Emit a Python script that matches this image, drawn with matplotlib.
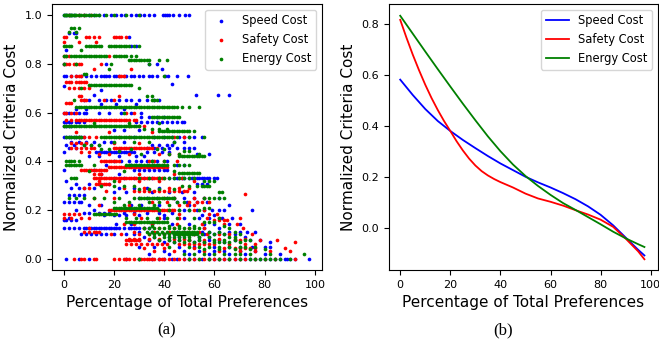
import numpy as np
import matplotlib
matplotlib.use("Agg")
import matplotlib.pyplot as plt

# ---- panel (a): scatter rows, (normalized cost, [percentage values]) ----
speed_rows = [
    (1.0, [0, 1, 2, 3, 4, 6, 8, 10, 12, 14, 16, 19, 21, 23, 24.5, 27, 29, 30.5, 32, 34, 36, 39.7, 40.4, 41.1, 42.1, 43.7, 46, 48.4, 49.7]),
    (0.926, [2, 4, 5]),
    (0.909, [26]),
    (0.875, [27, 29]),
    (0.857, [1]),
    (0.8, [0, 17, 34, 37]),
    (0.78, [39]),
    (0.75, [0, 1, 3, 5, 7, 9, 11, 13, 15, 16, 17, 18, 20, 21, 22, 24, 25, 27, 28, 30, 31.5, 33.8, 35, 37, 40.4, 41.7, 45.3, 49.3]),
    (0.717, [43]),
    (0.71, [0]),
    (0.692, [15]),
    (0.673, [12, 52.7, 61.3, 65.8]),
    (0.65, [8, 10, 14, 17, 19, 22, 25, 27, 30, 33, 36, 38]),
    (0.636, [15, 21, 29]),
    (0.615, [5, 9, 24]),
    (0.6, [0, 1, 2, 4, 6, 8, 9, 14, 18, 23, 27, 31]),
    (0.583, [31, 34, 37, 40]),
    (0.56, [0, 1, 2, 3, 5, 6, 8, 29, 31, 33, 35, 37, 39, 41, 43, 45, 47, 48]),
    (0.545, [0, 1, 2, 3]),
    (0.53, [20, 24, 30]),
    (0.5, [0, 1, 2, 3, 4, 5, 6, 7, 8, 28, 36, 40, 43, 46, 48, 50, 52, 55]),
    (0.48, [3, 6, 9, 12, 16, 19, 24, 44, 48]),
    (0.467, [1, 4, 8, 11, 14, 35, 38, 41, 43]),
    (0.455, [2, 5, 33, 36, 39, 42, 45, 48, 50, 52]),
    (0.44, [0, 13, 14, 15, 16, 17, 18, 19, 20, 21, 22, 23, 24, 25, 26, 27, 28, 33, 36, 39, 42]),
    (0.43, [53, 58]),
    (0.42, [10, 14, 22, 29, 32]),
    (0.4, [20, 23, 26, 29, 31, 33, 35, 37, 41]),
    (0.385, [17, 27, 37, 45, 48]),
    (0.364, [0, 12, 28, 30, 32, 34, 36, 38, 40, 41]),
    (0.35, [15, 22]),
    (0.333, [20, 24, 28, 32, 35, 38, 42, 44, 45, 46, 47, 48, 50, 51, 52, 53, 54, 55, 56, 57, 58, 60, 61]),
    (0.32, [1]),
    (0.308, [5, 10, 14, 18, 53, 55, 57]),
    (0.29, [3, 6, 8, 12, 22, 28, 33, 38]),
    (0.273, [20, 25, 35, 42, 47, 52]),
    (0.26, [2, 4, 6, 8]),
    (0.25, [30, 33, 37, 41, 44, 48, 52, 56, 62]),
    (0.235, [0, 2, 4, 6, 7, 45, 49, 53, 57]),
    (0.222, [10, 15, 27, 31, 38, 50, 66]),
    (0.2, [5, 12, 46, 48, 50, 53, 56, 59, 62, 64, 75]),
    (0.19, [8, 10, 14, 16, 18, 24, 28, 33, 38, 43]),
    (0.18, [16, 20, 22, 25, 30, 40, 55, 60]),
    (0.167, [2, 40, 48, 54, 58, 63, 67]),
    (0.158, [0, 1, 3, 5]),
    (0.143, [21, 27, 35, 43, 50, 56, 60, 66, 70]),
    (0.125, [0, 2, 4, 6, 8, 9, 10, 11, 12, 13, 14, 15, 16, 17, 18, 19, 20, 21, 22, 24, 26, 27, 28, 29, 30, 32, 34, 56, 62]),
    (0.111, [30, 35, 45, 48, 55, 58, 62, 66, 70, 73, 76]),
    (0.1, [7, 9, 11, 13, 15, 17, 20, 25, 28, 40, 44, 48, 50, 52, 56, 60, 64, 68]),
    (0.09, [32, 36, 42, 46, 54, 58, 72]),
    (0.077, [26, 30, 34, 38, 42, 46, 50, 54, 58, 62, 68, 74, 78]),
    (0.067, [40, 44, 52, 56, 64, 82]),
    (0.05, [30, 36, 46, 52, 60, 66, 70, 75, 80, 82]),
    (0.03, [40, 48, 54, 60, 64, 70, 76]),
    (0.02, [34, 42, 50, 58, 66, 72, 80, 86]),
    (0.0, [1, 6, 10, 25, 30, 35, 38, 40, 43, 45, 48, 50, 52, 55, 58, 60, 62, 64, 66, 68, 70, 72, 74, 76, 78, 80, 82, 84, 86, 88, 89, 90, 92, 97.5]),
]

safety_rows = [
    (1.0, [2, 6, 8, 11]),
    (0.909, [0, 1, 9, 10, 12, 14, 20, 21, 22, 23, 25]),
    (0.889, [0, 6, 13]),
    (0.833, [0, 1, 2, 18]),
    (0.8, [0, 1, 2, 4, 5, 6, 7, 15]),
    (0.778, [12, 27]),
    (0.75, [3, 5, 6, 7, 22, 23, 24]),
    (0.727, [1, 2, 3, 5, 6, 7, 8, 9]),
    (0.7, [2, 4, 6, 8, 10]),
    (0.667, [6, 7, 22]),
    (0.65, [7, 8, 9, 16, 20]),
    (0.64, [1, 2, 3]),
    (0.6, [0, 1, 3, 5, 25, 28]),
    (0.571, [1, 3, 5, 6, 7, 8, 9, 10, 11, 12, 13, 14, 15, 16, 17, 18, 19, 20, 21, 22, 23, 24, 25, 26, 28, 29]),
    (0.545, [26, 30, 32]),
    (0.52, [5, 18, 35]),
    (0.5, [6, 8, 10, 13, 22, 26, 44, 48]),
    (0.476, [3, 5, 7, 9, 20, 30]),
    (0.455, [3, 5, 7, 9, 11, 12, 20, 21, 22, 23, 24, 25, 26, 27, 28, 29, 30, 31, 32, 33, 34, 35, 37]),
    (0.44, [7, 10]),
    (0.429, [14, 18, 26, 38, 42, 46]),
    (0.4, [15, 16, 17, 18, 19, 20, 21, 22, 34, 36, 40, 45]),
    (0.375, [18, 19, 20, 21, 22, 23, 24, 25, 26, 27, 28, 29, 30, 31, 32, 33, 34, 35, 36, 37, 38, 39, 40, 41]),
    (0.364, [7, 8, 9, 10, 11, 12, 13, 14, 15, 16, 17]),
    (0.35, [12, 14, 15, 30, 44]),
    (0.333, [12, 13, 14, 15, 16, 17, 18, 19, 20, 21, 22, 23, 24, 25, 26, 27, 28, 29, 30, 31, 32, 33, 34, 35, 36, 37, 38, 39, 40, 47]),
    (0.32, [14, 22, 30, 38, 52]),
    (0.308, [13, 14, 15, 16, 17, 18]),
    (0.29, [8, 10, 24, 32, 42, 46, 50]),
    (0.278, [17, 28, 30, 32, 34, 36, 38, 40, 42, 44, 46, 48, 49]),
    (0.267, [72]),
    (0.25, [12, 20, 40, 44, 52, 56]),
    (0.235, [35, 41, 50, 53, 55, 58]),
    (0.222, [14, 26, 46, 49, 52]),
    (0.2, [18, 19, 20, 21, 22, 23, 24, 25, 26, 27, 28, 29, 30, 31, 32, 33, 34, 35, 36, 37, 38, 39, 40, 41, 42, 43, 44, 52, 56]),
    (0.182, [0, 2, 4, 6, 14, 28, 46, 58, 61]),
    (0.167, [0, 3, 7, 10, 31, 38, 46, 57, 62, 70]),
    (0.16, [60, 62, 64, 65]),
    (0.143, [24, 28, 35, 45, 55, 64, 69]),
    (0.125, [10, 32, 38, 44, 50, 56, 71.5]),
    (0.111, [8, 10, 12, 13, 14, 28, 36, 42, 48, 54]),
    (0.1, [19, 23, 30, 34, 40, 46, 52, 57, 62, 66, 75]),
    (0.083, [26, 28, 30, 34, 38, 44, 48, 62, 68, 72]),
    (0.077, [25, 26, 27, 28, 29, 30, 50, 56, 70, 78, 85]),
    (0.07, [92]),
    (0.06, [25, 27, 29, 31, 33, 35, 37, 39, 41, 46, 48, 50, 52, 54, 56, 58, 60, 66, 72, 76]),
    (0.045, [32, 40, 52, 64, 68, 70, 72, 74, 76, 88]),
    (0.03, [36, 44, 56, 62, 70, 76, 82, 90]),
    (0.0, [4, 7, 8, 12, 13, 20, 22, 24, 25, 26, 28, 30, 31, 32, 33, 34, 35, 36, 38, 39, 40, 42, 44, 46, 48, 50, 52, 54, 56, 58, 60, 62, 64, 66, 68, 70, 72, 76, 80, 84, 92]),
]

energy_rows = [
    (1.0, [0, 0.5, 1, 1.5, 2, 2.5, 3, 3.5, 4, 4.5, 5, 6, 7, 8, 9, 10, 11, 12, 13, 14, 17, 20, 25, 30]),
    (0.947, [3, 4, 6]),
    (0.93, [2, 5]),
    (0.909, [5]),
    (0.875, [0, 1, 2, 3, 9, 10, 11, 12, 13, 14, 15, 18, 19, 20, 21, 22, 23, 24, 25, 26, 28, 30]),
    (0.857, [7]),
    (0.833, [0, 1, 3, 4, 5, 6, 7, 8, 9, 10, 11, 12, 13, 14, 15, 16, 17, 20, 21, 22, 23, 24, 25, 27, 29]),
    (0.818, [26, 27, 28, 29, 30, 31, 32, 33, 34, 38, 41]),
    (0.8, [0, 5, 19, 34]),
    (0.778, [18]),
    (0.76, [8, 9]),
    (0.75, [40]),
    (0.714, [10, 11, 12, 13, 14, 15, 16, 17, 18, 19, 20, 21, 22, 23, 24, 25, 26, 27]),
    (0.7, [7, 30]),
    (0.667, [33, 35]),
    (0.65, [4, 35, 36, 37]),
    (0.625, [5, 6, 7, 8, 9, 10, 11, 12, 13, 14, 15, 16, 17, 18, 19, 20, 21, 22, 23, 24, 25, 26, 27, 28, 29, 30, 31, 32, 33, 34, 35, 36, 37, 38, 39, 40, 41, 42, 43, 44, 45, 47, 50, 54]),
    (0.6, [24]),
    (0.583, [35, 36, 37, 38, 39, 40, 41, 42, 43, 44, 45, 46]),
    (0.556, [12, 26, 38]),
    (0.545, [0, 1, 2, 3, 4, 5, 6, 7, 8, 9, 10, 11, 12, 13, 14, 15, 16, 17, 18, 19, 20, 21, 22, 23, 24, 25, 26, 27, 28, 29, 30]),
    (0.533, [32, 35, 38, 41]),
    (0.526, [38, 39, 40, 41, 42, 43, 44, 45, 46, 47, 48, 49, 50, 52]),
    (0.5, [1, 2, 3, 4, 5, 6, 7, 15, 16, 17, 18, 19, 20, 21, 22, 23, 24, 25, 26, 27, 28, 29, 30, 31, 32, 33, 34, 35, 36, 37, 38, 39, 40, 41, 42, 43, 45, 50, 56]),
    (0.48, [20, 28, 34, 44]),
    (0.467, [8, 11, 14]),
    (0.45, [15, 18, 27, 37, 40]),
    (0.444, [22, 48, 50]),
    (0.43, [31, 42, 46, 54]),
    (0.421, [46, 47, 48, 49, 50, 51, 52, 53, 54, 55, 56]),
    (0.4, [1, 2, 3, 4, 6, 35, 40]),
    (0.385, [1, 2, 3, 4, 5, 6, 7, 12, 25, 26, 27, 28, 29, 30, 31, 32, 33, 34, 35, 36, 37, 38, 39, 40, 41, 44, 46, 48, 50]),
    (0.36, [10, 24, 44]),
    (0.353, [46, 47, 48, 49, 50, 51, 52, 53, 54]),
    (0.333, [3, 4, 5, 30, 34, 38, 40, 42, 44, 46, 48, 50, 52]),
    (0.32, [20, 56, 58, 60]),
    (0.3, [15, 20, 24, 28, 47, 50, 53, 55, 56, 57, 58]),
    (0.286, [30, 34, 38, 44]),
    (0.273, [62, 63]),
    (0.25, [2, 5, 8, 12, 16, 22, 28, 30, 31, 32, 33, 34, 35, 36, 37, 38, 39, 40, 41, 42, 43, 44, 56, 58, 60, 62, 64]),
    (0.235, [20, 26, 34, 38, 45, 48]),
    (0.222, [24, 30, 36, 42]),
    (0.208, [20, 21, 22, 23, 24, 25, 26, 27, 28, 29, 30, 31, 32, 33, 34, 35, 36, 37, 56, 58]),
    (0.2, [38, 42, 46, 50, 54]),
    (0.182, [12, 13, 14, 15, 16, 17, 18, 19, 20, 21]),
    (0.167, [25, 29, 33, 37, 41, 45, 52, 62]),
    (0.15, [25, 26, 27, 28, 29, 30, 31, 32, 33, 34, 35, 36, 37, 38, 39, 40, 41, 56, 58, 60]),
    (0.133, [35, 42, 46, 52, 64]),
    (0.125, [32, 34, 36, 38, 40, 42, 44, 46, 48, 50, 52, 54, 66]),
    (0.111, [33, 35, 37, 39, 41, 43, 44, 45, 46, 47, 48, 49, 50, 51, 52, 53, 58, 62, 68]),
    (0.1, [34, 36, 38, 40, 42, 44, 45, 46, 47, 48, 49, 50, 51, 52, 53, 55, 60, 64, 70]),
    (0.09, [36, 40, 42, 44, 46, 48, 50, 54, 58, 66, 68]),
    (0.077, [38, 42, 46, 50, 54, 60, 64, 68, 72, 74]),
    (0.067, [44, 48, 52, 56, 60, 62, 64, 66, 70]),
    (0.05, [42, 50, 54, 58, 62, 66, 70, 72, 76]),
    (0.04, [56, 62, 68, 74, 80]),
    (0.02, [48, 52, 56, 60, 64, 68, 70, 74, 82, 95.6]),
    (0.0, [30, 50, 54, 58, 62, 66, 70, 74, 76, 78, 80, 82, 84, 86, 90]),
]

# ---- panel (b): fitted trend curves read at fixed percentages ----
curve_x = [0, 5, 10, 15, 20, 25, 30, 35, 40, 45, 50, 55, 60, 65, 70, 75, 80, 85, 90, 95, 97.5]
speed_fit = [0.582, 0.522, 0.467, 0.420, 0.381, 0.346, 0.314, 0.283, 0.254, 0.228, 0.202,
             0.180, 0.160, 0.138, 0.114, 0.086, 0.053, 0.012, -0.036, -0.084, -0.106]
energy_fit = [0.832, 0.762, 0.692, 0.623, 0.555, 0.488, 0.423, 0.360, 0.302, 0.250, 0.205,
              0.166, 0.131, 0.099, 0.072, 0.044, 0.016, -0.013, -0.039, -0.062, -0.073]
safety_x = [0, 2.5, 5, 7.5, 10, 12.5, 15, 17.5, 20, 22.5, 25, 27.5, 30, 32.5, 35, 37.5, 40,
            45, 50, 55, 60, 65, 70, 75, 80, 85, 90, 95, 97.5]
safety_fit = [0.816, 0.746, 0.680, 0.619, 0.562, 0.510, 0.463, 0.420, 0.381, 0.341, 0.305,
              0.273, 0.246, 0.224, 0.207, 0.193, 0.181, 0.160, 0.136, 0.117, 0.104, 0.089,
              0.071, 0.054, 0.034, 0.006, -0.040, -0.090, -0.121]


def unpack(rows):
    xs, ys = [], []
    for y, xlist in rows:
        xs.extend(xlist)
        ys.extend([y] * len(xlist))
    return np.array(xs), np.array(ys)


fig = plt.figure(figsize=(6.59, 3.45), dpi=100)
ax1 = fig.add_axes([52 / 659, 75 / 345, 270 / 659, 266 / 345])
ax2 = fig.add_axes([388.7 / 659, 75 / 345, 269 / 659, 266 / 345])

series = [("Speed Cost", speed_rows, curve_x, speed_fit, "blue"),
          ("Safety Cost", safety_rows, safety_x, safety_fit, "red"),
          ("Energy Cost", energy_rows, curve_x, energy_fit, "green")]

for name, rows, fx, fy, color in series:
    xs, ys = unpack(rows)
    ax1.scatter(xs, ys, s=7, color=color, label=name, linewidths=0)
    ax2.plot(fx, fy, color=color, lw=1.3, label=name)

for ax in (ax1, ax2):
    ax.set_xlabel("Percentage of Total Preferences", fontsize=11)
    ax.set_ylabel("Normalized Criteria Cost", fontsize=11)
    ax.tick_params(labelsize=8)
    ax.set_xticks([0, 20, 40, 60, 80, 100])
    ax.set_xlim(-4.6, 102.8)

ax1.set_ylim(-0.046, 1.046)
ax1.set_yticks([0.0, 0.2, 0.4, 0.6, 0.8, 1.0])
ax2.set_ylim(-0.163, 0.878)
ax2.set_yticks([0.0, 0.2, 0.4, 0.6, 0.8])

ax1.legend(loc="upper right", fontsize=8.3, scatterpoints=1)
ax2.legend(loc="upper right", fontsize=8.3)

fig.text(0.253, 0.043, "(a)", ha="center", va="center", family="Liberation Serif", fontsize=12)
fig.text(0.763, 0.043, "(b)", ha="center", va="center", family="Liberation Serif", fontsize=12)

fig.savefig("out.png", dpi=100)
